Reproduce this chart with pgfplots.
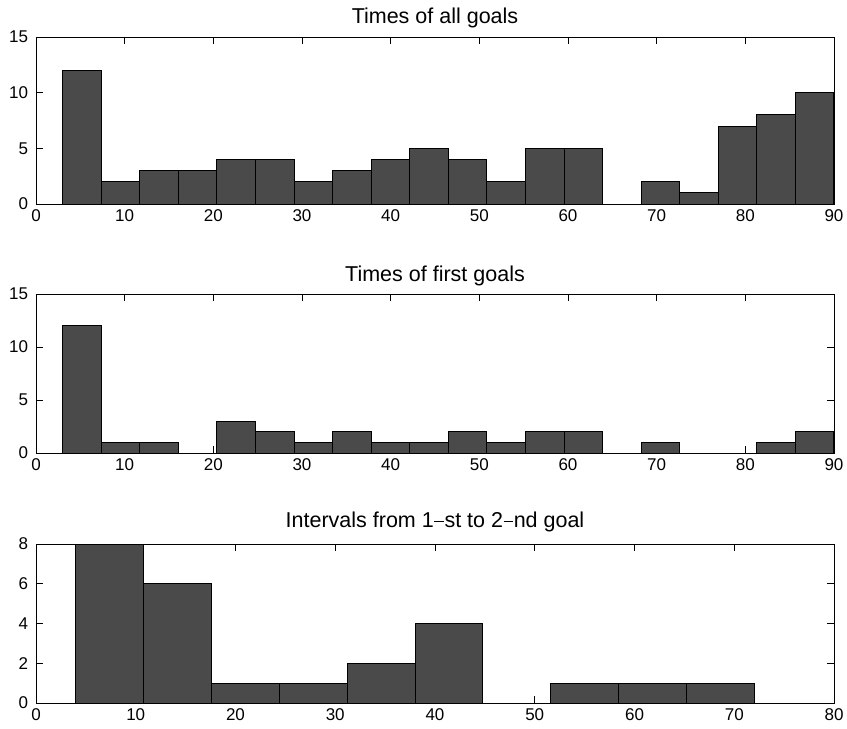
\documentclass[border=0pt]{standalone}
\usepackage{pgfplots}
\pgfplotsset{compat=1.18}
\usepackage{fontspec}
\setmainfont{Liberation Sans}
\definecolor{barfill}{RGB}{74,74,74}
\begin{document}
\fontsize{17}{20}\selectfont
\begin{tikzpicture}
\useasboundingbox (0pt,0pt) rectangle (847pt,-729pt);
\pgfplotsset{hstyle/.style={
  scale only axis, width=798pt,
  axis line style={line width=0.9pt, black},
  tick style={line width=0.9pt, black},
  major tick length=7pt, tick align=inside,
  xtick pos=both, ytick pos=both,
  ymin=0,
  /pgf/number format/assume math mode=true,
  ticklabel style={font=\fontsize{17}{20}\selectfont},
  yticklabel style={xshift=-2pt},
  title style={font=\fontsize{21.5}{25}\selectfont, at={(0.5,1)}, anchor=base},
}}
\begin{axis}[hstyle, at={(36pt,-204pt)}, anchor=south west, height=167pt,
  xmin=0, xmax=90, ymax=15, xtick={0,10,...,90}, ytick={0,5,10,15},
  title style={yshift=8pt},
  title={Times of all goals}]
\addplot[ybar interval, fill=barfill, draw=black, line width=1pt] coordinates {
(3,12) (7.35,2) (11.7,3) (16.05,3) (20.4,4) (24.75,4) (29.1,2) (33.45,3) (37.8,4) (42.15,5)
(46.5,4) (50.85,2) (55.2,5) (59.55,5) (63.9,0) (68.25,2) (72.6,1) (76.95,7) (81.3,8) (85.65,10) (90,10)};
\end{axis}
\begin{axis}[hstyle, at={(36pt,-453pt)}, anchor=south west, height=159pt,
  xmin=0, xmax=90, ymax=15, xtick={0,10,...,90}, ytick={0,5,10,15},
  title style={yshift=7pt},
  title={Times of first goals}]
\addplot[ybar interval, fill=barfill, draw=black, line width=1pt] coordinates {
(3,12) (7.35,1) (11.7,1) (16.05,0) (20.4,3) (24.75,2) (29.1,1) (33.45,2) (37.8,1) (42.15,1)
(46.5,2) (50.85,1) (55.2,2) (59.55,2) (63.9,0) (68.25,1) (72.6,0) (76.95,0) (81.3,1) (85.65,2) (90,2)};
\end{axis}
\begin{axis}[hstyle, at={(36pt,-703pt)}, anchor=south west, height=159pt,
  xmin=0, xmax=80, ymax=8, xtick={0,10,...,80}, ytick={0,2,4,6,8},
  title style={yshift=11pt},
  title={Intervals from 1\kern0.5pt\raisebox{0.5ex}{\rule{0.45em}{0.6pt}}\kern0.5pt st to 2\kern0.5pt\raisebox{0.5ex}{\rule{0.45em}{0.6pt}}\kern0.5pt nd goal}]
\addplot[ybar interval, fill=barfill, draw=black, line width=1pt] coordinates {
(4,8) (10.8,6) (17.6,1) (24.4,1) (31.2,2) (38,4) (44.8,0) (51.6,1) (58.4,1) (65.2,1) (72,1)};
\end{axis}
\end{tikzpicture}
\end{document}
